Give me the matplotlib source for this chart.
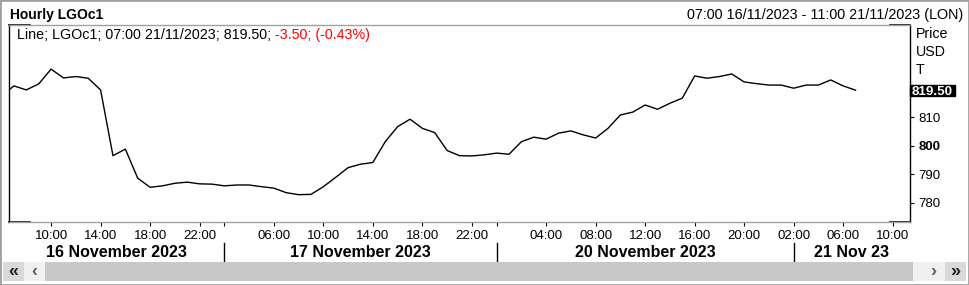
import matplotlib.pyplot as plt
import matplotlib.transforms as mtransforms
from matplotlib.patches import Rectangle
from matplotlib.lines import Line2D
import numpy as np

plt.rcParams['font.family'] = ['Liberation Sans', 'DejaVu Sans']

# hourly LGOc1 prices, one per trading bar (first value is the bar before 07:00 16/11)
prices = [817.5, 821.0, 819.6, 821.7, 826.9, 823.8, 824.3, 823.7, 819.6, 796.5,
          798.8, 788.6, 785.4, 785.9, 786.8, 787.2, 786.6, 786.5, 785.9, 786.2,
          786.2, 785.6, 785.1, 783.5, 782.8, 782.9, 785.6, 788.9, 792.3, 793.5,
          794.1, 801.4, 806.7, 809.3, 806.1, 804.6, 798.3, 796.5, 796.4, 796.8,
          797.4, 797.0, 801.4, 803.0, 802.3, 804.4, 805.2, 803.8, 802.7, 806.1,
          810.8, 811.8, 814.3, 812.8, 814.9, 816.7, 824.5, 823.7, 824.3, 825.2,
          822.4, 821.8, 821.3, 821.3, 820.2, 821.3, 821.3, 823.1, 821.0, 819.5]

# time axis, in bar numbers (bar 0 = 07:00 16/11/2023)
tick_bars = [3, 7, 11, 15, 21, 25, 29, 33, 37, 43, 47, 51, 55, 59, 63, 67, 71]
tick_labels = ['10:00', '14:00', '18:00', '22:00',
               '06:00', '10:00', '14:00', '18:00', '22:00',
               '04:00', '08:00', '12:00', '16:00', '20:00',
               '02:00', '06:00', '10:00']
day_start_bars = [17, 39, 63]
day_labels = ['16 November 2023', '17 November 2023', '20 November 2023', '21 Nov 23']

yticks = [780, 790, 800, 810]
last_price = 819.50
change = -3.50
change_pct = -0.43

W, H = 969, 285
fig = plt.figure(figsize=(W / 100, H / 100), dpi=100)
fig.patch.set_facecolor('white')


def fx(px):
    return px / W


def fy(py):
    return 1 - py / H


ax = fig.add_axes([fx(9), fy(222), fx(910) - fx(9), fy(25) - fy(222)])
x = np.arange(len(prices)) - 1
ax.plot(x, prices, color='black', lw=1.0)
ax.set_xlim(-0.4, 72.4)
ax.set_ylim(773.2, 842.4)

# frame: grey top/bottom with short black corners
for s in ['top', 'bottom']:
    ax.spines[s].set_color('#a0a0a0')
for s in ['left', 'right']:
    ax.spines[s].set_color('black')
for s in ax.spines.values():
    s.set_linewidth(1)
for yy in (0, 1):
    ax.plot([0, 21 / 901], [yy, yy], transform=ax.transAxes, color='black', lw=1.2, clip_on=False)
    ax.plot([1 - 20 / 901, 1], [yy, yy], transform=ax.transAxes, color='black', lw=1.2, clip_on=False)

# price axis on the right
ax.yaxis.tick_right()
ax.set_yticks(yticks, [str(v) for v in yticks])
ax.tick_params(axis='y', direction='out', length=3, width=0.8, pad=3, labelsize=9.5)
for lbl, v in zip(ax.get_yticklabels(), yticks):
    if v % 100 == 0:
        lbl.set_fontweight('bold')

# time axis
ax.set_xticks(tick_bars, tick_labels)
ax.set_xticks(day_start_bars, minor=True)
ax.tick_params(axis='x', which='both', direction='out', length=3, width=0.8, pad=3, labelsize=9.5)

trans = mtransforms.blended_transform_factory(ax.transData, fig.transFigure)
bounds = [-0.4] + day_start_bars + [72.4]
for i, lab in enumerate(day_labels):
    ax.text((bounds[i] + bounds[i + 1]) / 2, fy(256.7), lab, transform=trans,
            ha='center', va='baseline', fontsize=11.5, fontweight='bold')
for b in day_start_bars:
    ax.add_line(Line2D([b, b], [fy(243), fy(261)], transform=trans, color='black', lw=1, clip_on=False))

# last price tag
trans_y = mtransforms.blended_transform_factory(ax.transAxes, ax.transData)
units_per_px = (842.4 - 773.2) / 197
ax.add_patch(Rectangle((1.0, last_price - 5.5 * units_per_px), 45 / 901, 11 * units_per_px,
                       transform=trans_y, color='black', clip_on=False))
ax.text(1.0 + 1.5 / 901, last_price, f'{last_price:.2f}', transform=trans_y, color='white',
        fontweight='bold', fontsize=9.6, va='center_baseline', clip_on=False)

# header
fig.text(fx(10.5), fy(19.3), 'Hourly LGOc1', fontsize=10, fontweight='bold', va='baseline')
fig.text(fx(963), fy(19), '07:00 16/11/2023 - 11:00 21/11/2023 (LON)', fontsize=10.4,
         ha='right', va='baseline')

# legend line
t1 = fig.text(fx(17), fy(39.3), f'Line; LGOc1; 07:00 21/11/2023; {last_price:.2f};',
              fontsize=10.3, va='baseline')
ax.annotate(f'{change:.2f}; ({change_pct:.2f}%)', xy=(1, 0), xycoords=t1,
            xytext=(2.8, 0), textcoords='offset points', va='bottom',
            fontsize=10.3, color='#ff0000')

for txt, py in [('Price', 38), ('USD', 56.5), ('T', 74)]:
    fig.text(fx(916), fy(py), txt, fontsize=10.2, va='baseline')

# scroll bar
def box(x0, x1, color):
    fig.add_artist(Rectangle((fx(x0), fy(281)), fx(x1) - fx(x0), fy(262) - fy(281),
                             transform=fig.transFigure, color=color, lw=0))

box(3, 24, '#d9d9d9')
box(24, 45, '#f0f0f0')
box(45, 913, '#c8c8c8')
box(913, 945, '#f0f0f0')
box(945, 966, '#d9d9d9')
fig.text(fx(13.5), fy(271.5), '«', fontsize=13, fontweight='bold', ha='center', va='center', color='#202020')
fig.text(fx(34), fy(271.5), '‹', fontsize=13, fontweight='bold', ha='center', va='center', color='#606060')
fig.text(fx(933), fy(271.5), '›', fontsize=13, fontweight='bold', ha='center', va='center', color='#606060')
fig.text(fx(955), fy(271.5), '»', fontsize=13, fontweight='bold', ha='center', va='center', color='#202020')

fig.add_artist(Rectangle((0, 0), 1, 1, transform=fig.transFigure, fill=False,
                         ec='#a0a0a0', lw=2))

fig.savefig('out.png', dpi=100)
